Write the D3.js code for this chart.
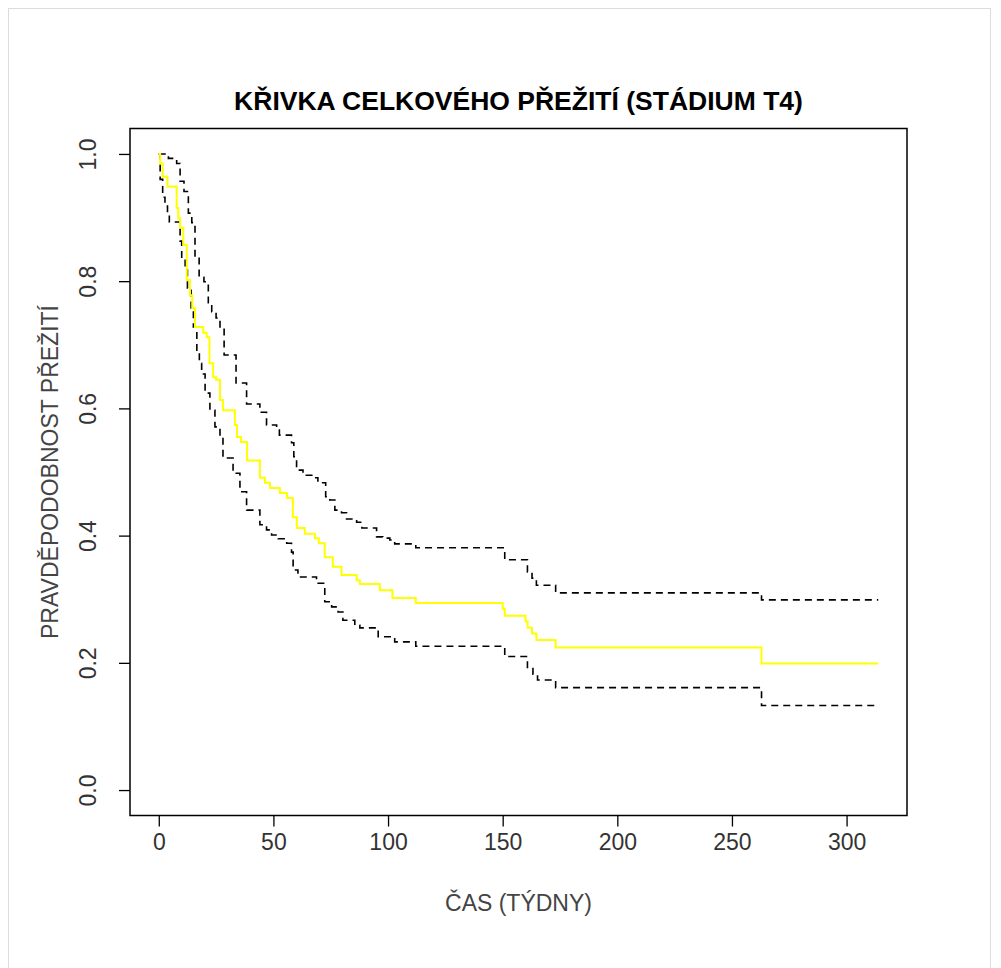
<!DOCTYPE html>
<html>
<head>
<meta charset="utf-8">
<script src="https://cdn.jsdelivr.net/npm/d3@7"></script>
<style>
  body { margin: 0; background: #fff; }
  svg text { font-family: "Liberation Sans", Arial, sans-serif; }
</style>
</head>
<body>
<svg id="svg" width="1001" height="968"></svg>
<script>
// Kaplan-Meier estimate, stage T4 (time in weeks)
const survWeeks = [0, 0.6, 1.7, 3.8, 7.8, 8.5, 9.3, 10.7, 12.2, 13.6, 14.6, 15.8, 19.4, 20.9, 22.1, 23.7, 25.0, 26.7, 28.0, 33.2,
  34.1, 35.9, 38.5, 44.1, 46.3, 48.5, 52.8, 55.9, 58.5, 60.2, 63.7, 68.1, 69.8, 72.4, 75.9, 79.7, 86.3, 87.7, 96.4, 101.9,
  112.1, 150.0, 150.9, 160.0, 160.9, 162.8, 164.7, 173.1, 262.9, 313.8];
const survProb = [1, 0.985, 0.964, 0.949, 0.915, 0.899, 0.884, 0.857, 0.802, 0.778, 0.758, 0.728, 0.719, 0.712, 0.671, 0.649, 0.645, 0.613, 0.597, 0.574,
  0.555, 0.547, 0.518, 0.491, 0.483, 0.475, 0.467, 0.459, 0.429, 0.412, 0.403, 0.396, 0.388, 0.366, 0.351, 0.338, 0.330, 0.324, 0.314, 0.302,
  0.294, 0.285, 0.274, 0.265, 0.255, 0.246, 0.236, 0.224, 0.199, 0.199];

// upper 95% confidence limit
const upperWeeks = [0, 4.2, 7.8, 9.3, 11.0, 12.9, 14.4, 15.8, 17.6, 19.7, 21.6, 23.1, 25.0, 26.7, 28.5, 33.7, 38.3, 44.1, 47.0, 51.4,
  52.6, 57.9, 58.9, 60.1, 62.9, 67.2, 69.4, 72.8, 74.6, 76.8, 79.7, 81.9, 86.3, 88.6, 95.0, 97.7, 100.8, 102.9, 112.1, 150.9,
  160.8, 162.8, 164.7, 173.1, 262.9, 313.8];
const upperProb = [1, 0.993, 0.985, 0.957, 0.941, 0.907, 0.892, 0.838, 0.806, 0.799, 0.766, 0.752, 0.742, 0.726, 0.684, 0.640, 0.607, 0.594, 0.574, 0.566,
  0.558, 0.546, 0.524, 0.503, 0.495, 0.491, 0.483, 0.461, 0.456, 0.440, 0.436, 0.426, 0.421, 0.412, 0.398, 0.396, 0.393, 0.387, 0.381, 0.362,
  0.343, 0.333, 0.322, 0.310, 0.299, 0.299];

// lower 95% confidence limit
const lowerWeeks = [0, 0.6, 1.7, 2.7, 3.8, 4.6, 9.3, 10.0, 11.5, 12.5, 14.1, 15.1, 16.6, 17.7, 18.7, 20.2, 22.3, 24.5, 26.7, 28.0,
  32.4, 35.4, 38.3, 44.1, 47.0, 49.2, 52.1, 55.8, 57.9, 58.6, 60.7, 68.8, 72.4, 75.4, 78.2, 80.3, 85.5, 87.7, 95.7, 102.9,
  112.1, 150.9, 160.8, 163.2, 165.2, 173.1, 262.9, 313.8];
const lowerProb = [1, 0.960, 0.932, 0.918, 0.907, 0.893, 0.863, 0.836, 0.821, 0.789, 0.758, 0.728, 0.689, 0.671, 0.654, 0.624, 0.597, 0.571, 0.555, 0.522,
  0.498, 0.469, 0.440, 0.417, 0.409, 0.401, 0.395, 0.388, 0.374, 0.346, 0.335, 0.325, 0.296, 0.288, 0.280, 0.267, 0.259, 0.255, 0.241, 0.233,
  0.226, 0.210, 0.191, 0.182, 0.173, 0.161, 0.133, 0.133];

const xTicks = [0, 50, 100, 150, 200, 250, 300];
const yTicks = [0, 0.2, 0.4, 0.6, 0.8, 1.0];

const title = "KŘIVKA CELKOVÉHO PŘEŽITÍ (STÁDIUM T4)";
const xTitle = "ČAS (TÝDNY)";
const yTitle = "PRAVDĚPODOBNOST PŘEŽITÍ";

const svg = d3.select('#svg');
const box = { left: 130, right: 907, top: 128.5, bottom: 815.5 };

// light frame around the output
svg.append('rect').attr('x', 8.5).attr('y', 8.5).attr('width', 982).attr('height', 970)
  .attr('fill', 'none').attr('stroke', '#dcdcdc').attr('stroke-width', 1);

// R-style 4% padding of the data range
const xMax = d3.max(survWeeks);
const x = d3.scaleLinear().domain([-0.04 * xMax, 1.04 * xMax]).range([box.left, box.right]);
const y = d3.scaleLinear().domain([-0.04, 1.04]).range([box.bottom, box.top]);

const zip = (ws, ps) => ws.map((w, i) => ({ w: w, p: ps[i] }));
const step = d3.line().x(d => x(d.w)).y(d => y(d.p)).curve(d3.curveStepAfter);

const plot = svg.append('g');
plot.append('path').attr('d', step(zip(upperWeeks, upperProb)))
  .attr('fill', 'none').attr('stroke', '#000').attr('stroke-width', 1.6).attr('stroke-dasharray', '7,5');
plot.append('path').attr('d', step(zip(lowerWeeks, lowerProb)))
  .attr('fill', 'none').attr('stroke', '#000').attr('stroke-width', 1.6).attr('stroke-dasharray', '7,5');
plot.append('path').attr('d', step(zip(survWeeks, survProb)))
  .attr('fill', 'none').attr('stroke', '#ffff00').attr('stroke-width', 2);

// axes
const xAxis = svg.append('g').attr('transform', `translate(0,${box.bottom})`)
  .call(d3.axisBottom(x).tickValues(xTicks).tickSize(11).tickPadding(7).tickFormat(d3.format('d')));
const yAxis = svg.append('g').attr('transform', `translate(${box.left},0)`)
  .call(d3.axisLeft(y).tickValues(yTicks).tickSize(11).tickFormat(d3.format('.1f')));

[xAxis, yAxis].forEach(g => {
  g.select('.domain').remove();
  g.selectAll('.tick line').attr('stroke', '#000').attr('stroke-width', 1.3);
  g.selectAll('.tick text').attr('font-size', 23).attr('fill', '#333')
    .style('font-family', '"Liberation Sans", Arial, sans-serif');
});
yAxis.selectAll('.tick text')
  .attr('x', null).attr('dy', null)
  .attr('text-anchor', 'middle')
  .attr('transform', 'translate(-34,0) rotate(-90)');

// plot frame
svg.append('rect').attr('x', box.left).attr('y', box.top)
  .attr('width', box.right - box.left).attr('height', box.bottom - box.top)
  .attr('fill', 'none').attr('stroke', '#000').attr('stroke-width', 1.5);

// titles
svg.append('text').attr('x', (box.left + box.right) / 2).attr('y', 110)
  .attr('text-anchor', 'middle').attr('font-size', 26.5).attr('font-weight', 'bold')
  .attr('fill', '#000').text(title);
svg.append('text').attr('x', (box.left + box.right) / 2).attr('y', 911)
  .attr('text-anchor', 'middle').attr('font-size', 23).attr('fill', '#444').text(xTitle);
svg.append('text').attr('transform', `translate(58,${(box.top + box.bottom) / 2}) rotate(-90)`)
  .attr('text-anchor', 'middle').attr('font-size', 23).attr('fill', '#444').text(yTitle);
</script>
</body>
</html>
